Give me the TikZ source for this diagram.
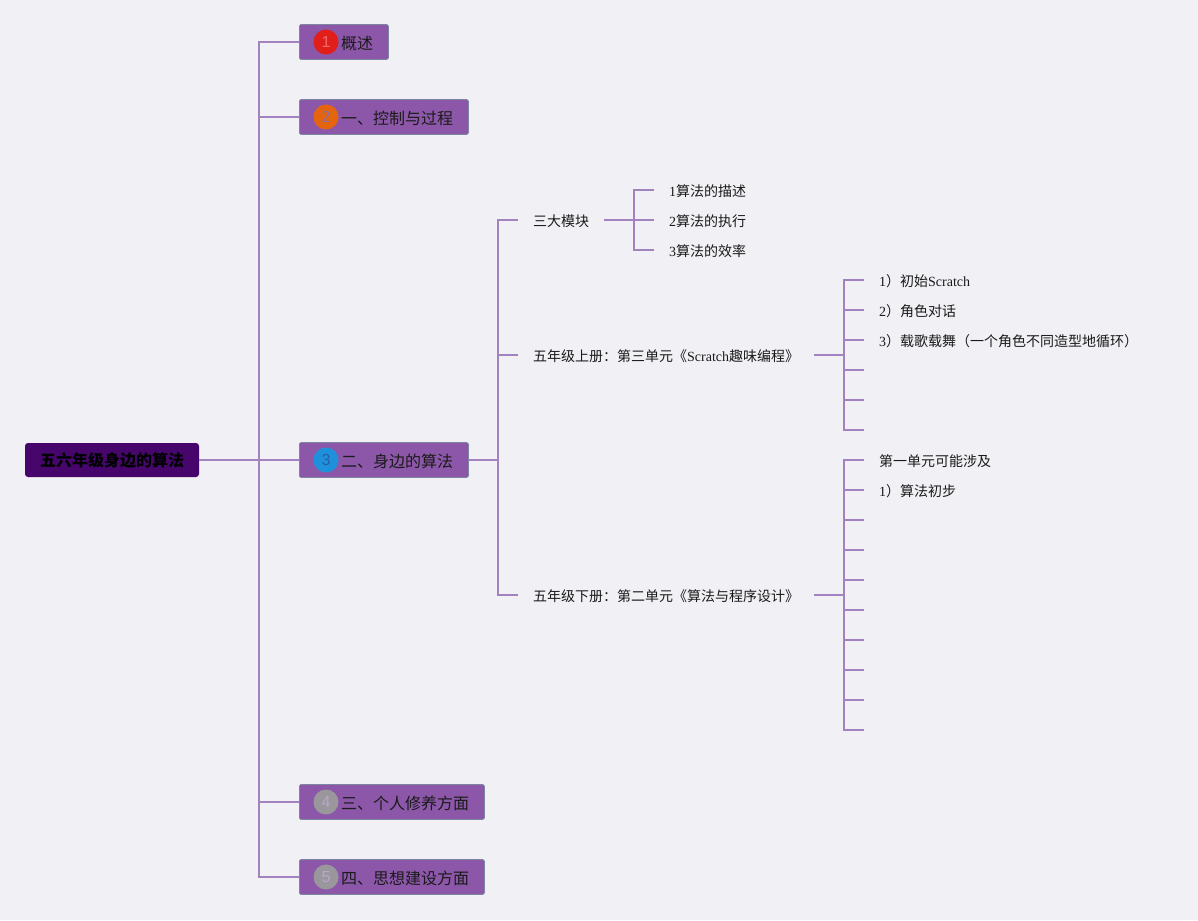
\documentclass[tikz,border=0pt]{standalone}
\usepackage{fontspec}
\setmainfont{Liberation Serif}
\newfontfamily\cjk{Noto Sans CJK SC}
\newfontfamily\numf{Liberation Sans}
\definecolor{bgc}{HTML}{F1F0F4}
\definecolor{linec}{HTML}{A283C0}
\definecolor{rootc}{HTML}{46066C}
\definecolor{boxc}{HTML}{8C57A8}
\definecolor{boxb}{HTML}{7B86A0}
\definecolor{txtc}{HTML}{1A1A1A}
\definecolor{redf}{HTML}{E01E1A}
\definecolor{redt}{HTML}{F06A6A}
\definecolor{orf}{HTML}{E5640F}
\definecolor{ort}{HTML}{8F6E94}
\definecolor{bluf}{HTML}{1E90DC}
\definecolor{blut}{HTML}{2A5FA8}
\definecolor{grf}{HTML}{9A979C}
\definecolor{grt}{HTML}{B9A6C8}
\tikzset{
  conn/.style={draw=linec, line width=1.8pt},
  rootbox/.style={fill=rootc, rounded corners=3pt, minimum width=174pt, minimum height=34pt, inner sep=0pt,
    font=\cjk\bfseries\fontsize{16}{18}\selectfont, text=black},
  topbox/.style={fill=boxc, draw=boxb, line width=0.8pt, rounded corners=1.5pt, minimum height=35pt, inner sep=0pt, anchor=west},
  badge/.style={circle, minimum size=25pt, inner sep=0pt, font=\numf\fontsize{16}{18}\selectfont},
  toptext/.style={anchor=west, inner sep=0pt, yshift=-1pt, font=\cjk\fontsize{16}{18}\selectfont, text=txtc},
  leaf/.style={anchor=west, inner sep=0pt, yshift=-1pt, font=\fontsize{14}{16}\selectfont, text=txtc},
}
\begin{document}
\begin{tikzpicture}[x=1pt,y=-1pt]
\fill[bgc] (0,0) rectangle (1198,920);
\useasboundingbox (0,0) rectangle (1198,920);

% root
\node[rootbox] (root) at (112,460) {五六年级身边的算法};

% top-level boxes
\node[topbox, minimum width=89pt]  (b1) at (299,42)  {};
\node[topbox, minimum width=169pt] (b2) at (299,117) {};
\node[topbox, minimum width=169pt] (b3) at (299,460) {};
\node[topbox, minimum width=185pt] (b4) at (299,802) {};
\node[topbox, minimum width=185pt] (b5) at (299,877) {};

\node[badge, fill=redf, text=redt] (c1) at (326,42) {1};
\node[badge, fill=orf, text=ort] (c2) at (326,117) {2};
\node[badge, fill=bluf, text=blut] (c3) at (326,460) {3};
\node[badge, fill=grf, text=grt] (c4) at (326,802) {4};
\node[badge, fill=grf, text=grt] (c5) at (326,877) {5};

\node[toptext] (t1) at (341,42)  {概述};
\node[toptext] (t2) at (341,117) {一、控制与过程};
\node[toptext] (t3) at (341,460) {二、身边的算法};
\node[toptext] (t4) at (341,802) {三、个人修养方面};
\node[toptext] (t5) at (341,877) {四、思想建设方面};

% trunk
\draw[conn] (root.east) -- (b3.west);
\draw[conn] (b1.west) -- ++(-40,0) |- (b5.west);
\draw[conn] (b2.west) -- ++(-40,0);
\draw[conn] (b4.west) -- ++(-40,0);

% level 2
\node[leaf] (s1) at (533,220) {\cjk 三大模块};
\node[leaf] (s2) at (533,355) {{\cjk 五年级上册：第三单元《}Scratch{\cjk 趣味编程》}};
\node[leaf] (s3) at (533,595) {\cjk 五年级下册：第二单元《算法与程序设计》};

\coordinate (s1in) at (518,220);
\coordinate (s2in) at (518,355);
\coordinate (s3in) at (518,595);
\draw[conn] (b3.east) -- ++(30,0);
\draw[conn] (s1in) -- ++(-20,0) |- (s3in);
\draw[conn] (s2in) -- ++(-20,0);

% 三大模块 children
\coordinate (s1out) at (604,220);
\coordinate (m1in) at (654,190);
\coordinate (m2in) at (654,220);
\coordinate (m3in) at (654,250);
\node[leaf] (m1) at (669,190) {1{\cjk 算法的描述}};
\node[leaf] (m2) at (669,220) {2{\cjk 算法的执行}};
\node[leaf] (m3) at (669,250) {3{\cjk 算法的效率}};
\draw[conn] (s1out) -- ++(30,0);
\draw[conn] (m1in) -- ++(-20,0) |- (m3in);
\draw[conn] (m2in) -- ++(-20,0);

% Scratch children
\coordinate (s2out) at (814,355);
\draw[conn] (s2out) -- ++(30,0);
\node[leaf] (p1) at (879,280) {1{\cjk ）初始}Scratch};
\node[leaf] (p2) at (879,310) {2{\cjk ）角色对话}};
\node[leaf] (p3) at (879,340) {3{\cjk ）载歌载舞（一个角色不同造型地循环）}};
\coordinate (p1in) at (864,280);
\coordinate (p2in) at (864,310);
\coordinate (p3in) at (864,340);
\coordinate (p4) at (864,370);
\coordinate (p5) at (864,400);
\coordinate (p6) at (864,430);
\draw[conn] (p1in) -- ++(-20,0) |- (p6);
\draw[conn] (p2in) -- ++(-20,0);
\draw[conn] (p3in) -- ++(-20,0);
\draw[conn] (p4) -- ++(-20,0);
\draw[conn] (p5) -- ++(-20,0);

% lower children
\coordinate (s3out) at (814,595);
\draw[conn] (s3out) -- ++(30,0);
\node[leaf] (q1) at (879,460) {\cjk 第一单元可能涉及};
\node[leaf] (q2) at (879,490) {1{\cjk ）算法初步}};
\coordinate (q1in) at (864,460);
\coordinate (q2in) at (864,490);
\coordinate (q10) at (864,730);
\draw[conn] (q1in) -- ++(-20,0) |- (q10);
\draw[conn] (q2in) -- ++(-20,0);
\foreach \yy in {520,550,580,610,640,670,700} {
  \coordinate (qq) at (864,\yy);
  \draw[conn] (qq) -- ++(-20,0);
}
\end{tikzpicture}
\end{document}
